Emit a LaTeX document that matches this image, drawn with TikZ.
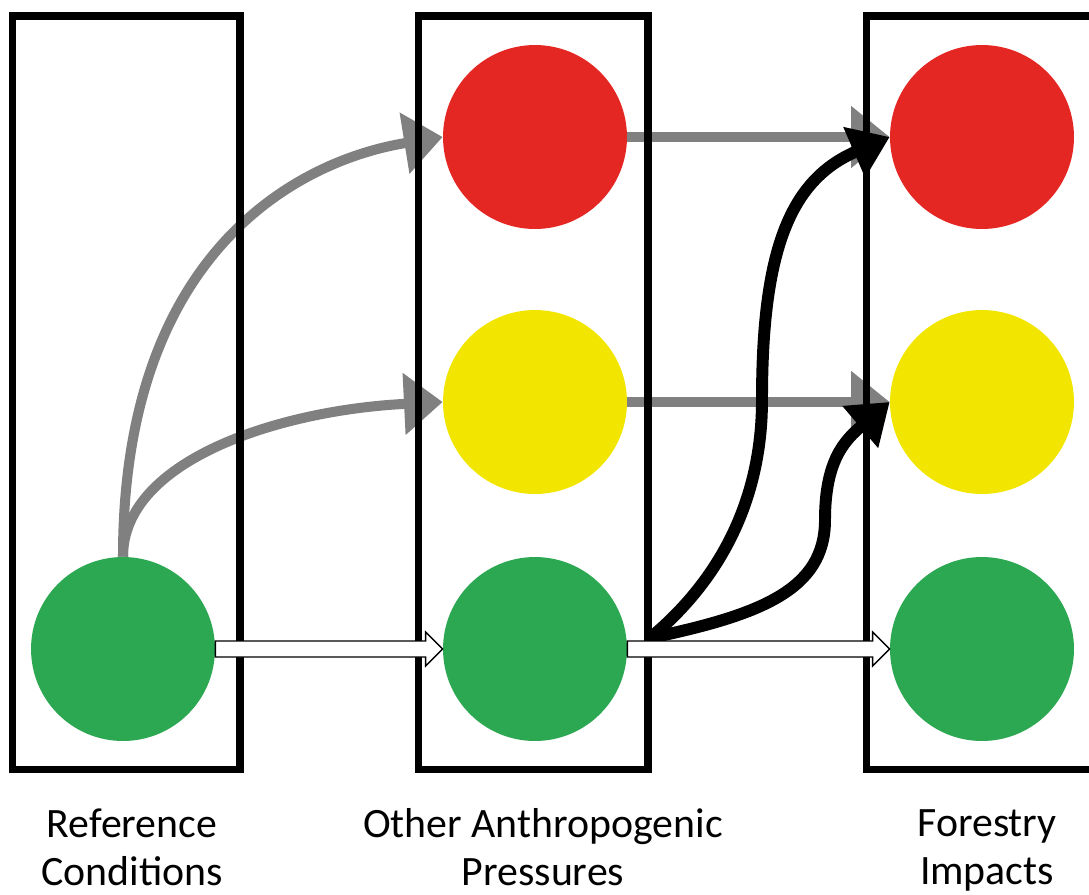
\documentclass[tikz,border=0pt]{standalone}
\usepackage{fontspec}
\setmainfont{Carlito}
\usetikzlibrary{arrows.meta,calc}

\definecolor{lightred}{RGB}{229,39,36}
\definecolor{lightyellow}{RGB}{242,230,0}
\definecolor{lightgreen}{RGB}{44,168,82}
\definecolor{arrowgray}{RGB}{128,128,128}

\begin{document}
\begin{tikzpicture}[x=0.02cm,y=-0.02cm]

    \tikzstyle{dot}=[circle, minimum size=3.68cm, inner sep=0pt]
    \tikzstyle{panel}=[draw=black, line width=4pt]
    \tikzstyle{grayarrow}=[draw=arrowgray, line width=5.7pt, -{Triangle[length=22pt,width=34pt]}]
    \tikzstyle{blackarrow}=[draw=black, line width=6.8pt, -{Triangle[length=22pt,width=30pt]}]
    \tikzstyle{blockarrow}=[draw=black, fill=white, line width=0.8pt]
    \tikzstyle{caption}=[align=center, font=\fontsize{23.8}{27.3}\selectfont]

    \useasboundingbox (0,0) rectangle (1089,894);

    \node[dot, fill=lightgreen]  (green1)  at (123,649) {};
    \node[dot, fill=lightred]    (red2)    at (535,137) {};
    \node[dot, fill=lightyellow] (yellow2) at (535,402) {};
    \node[dot, fill=lightgreen]  (green2)  at (535,649) {};
    \node[dot, fill=lightred]    (red3)    at (982,137) {};
    \node[dot, fill=lightyellow] (yellow3) at (982,402) {};
    \node[dot, fill=lightgreen]  (green3)  at (982,649) {};

    \draw[grayarrow] (green1.north) .. controls (123,250) and (300,160) .. (red2.west);
    \draw[grayarrow] (green1.north) .. controls (123,460) and (280,410) .. (yellow2.west);
    \draw[grayarrow] (red2.east) -- (red3.west);
    \draw[grayarrow] (yellow2.east) -- (yellow3.west);

    \draw[panel] (12.5,16)  rectangle (240,769)
                 (418.5,16) rectangle (648,769)
                 (866.5,16) rectangle (1100,769);

    \coordinate (split) at (650,638);
    \draw[blackarrow] (split) .. controls (720,580) and (762,500) .. (762,400)
                              .. controls (762,250) and (790,180) .. (red3.west);
    \draw[blackarrow] (split) .. controls (760,615) and (825,590) .. (825,520)
                              .. controls (825,460) and (845,440) .. (yellow3.west);

    \draw[blockarrow] ($(green1.east)+(0,-8)$) -- ($(green2.west)+(-17,-8)$)
                      -- ($(green2.west)+(-17,-17)$) -- (green2.west)
                      -- ($(green2.west)+(-17,17)$) -- ($(green2.west)+(-17,8)$)
                      -- ($(green1.east)+(0,8)$) -- cycle;
    \draw[blockarrow] ($(green2.east)+(0,-8)$) -- ($(green3.west)+(-17,-8)$)
                      -- ($(green3.west)+(-17,-17)$) -- (green3.west)
                      -- ($(green3.west)+(-17,17)$) -- ($(green3.west)+(-17,8)$)
                      -- ($(green2.east)+(0,8)$) -- cycle;

    \node[caption] (refcap)      at (132,847) {Reference\\Conditions};
    \node[caption] (pressurecap) at (543,847) {Other Anthropogenic\\Pressures};
    \node[caption] (forestcap)   at (987,850) {Forestry\\Impacts};
\end{tikzpicture}
\end{document}
